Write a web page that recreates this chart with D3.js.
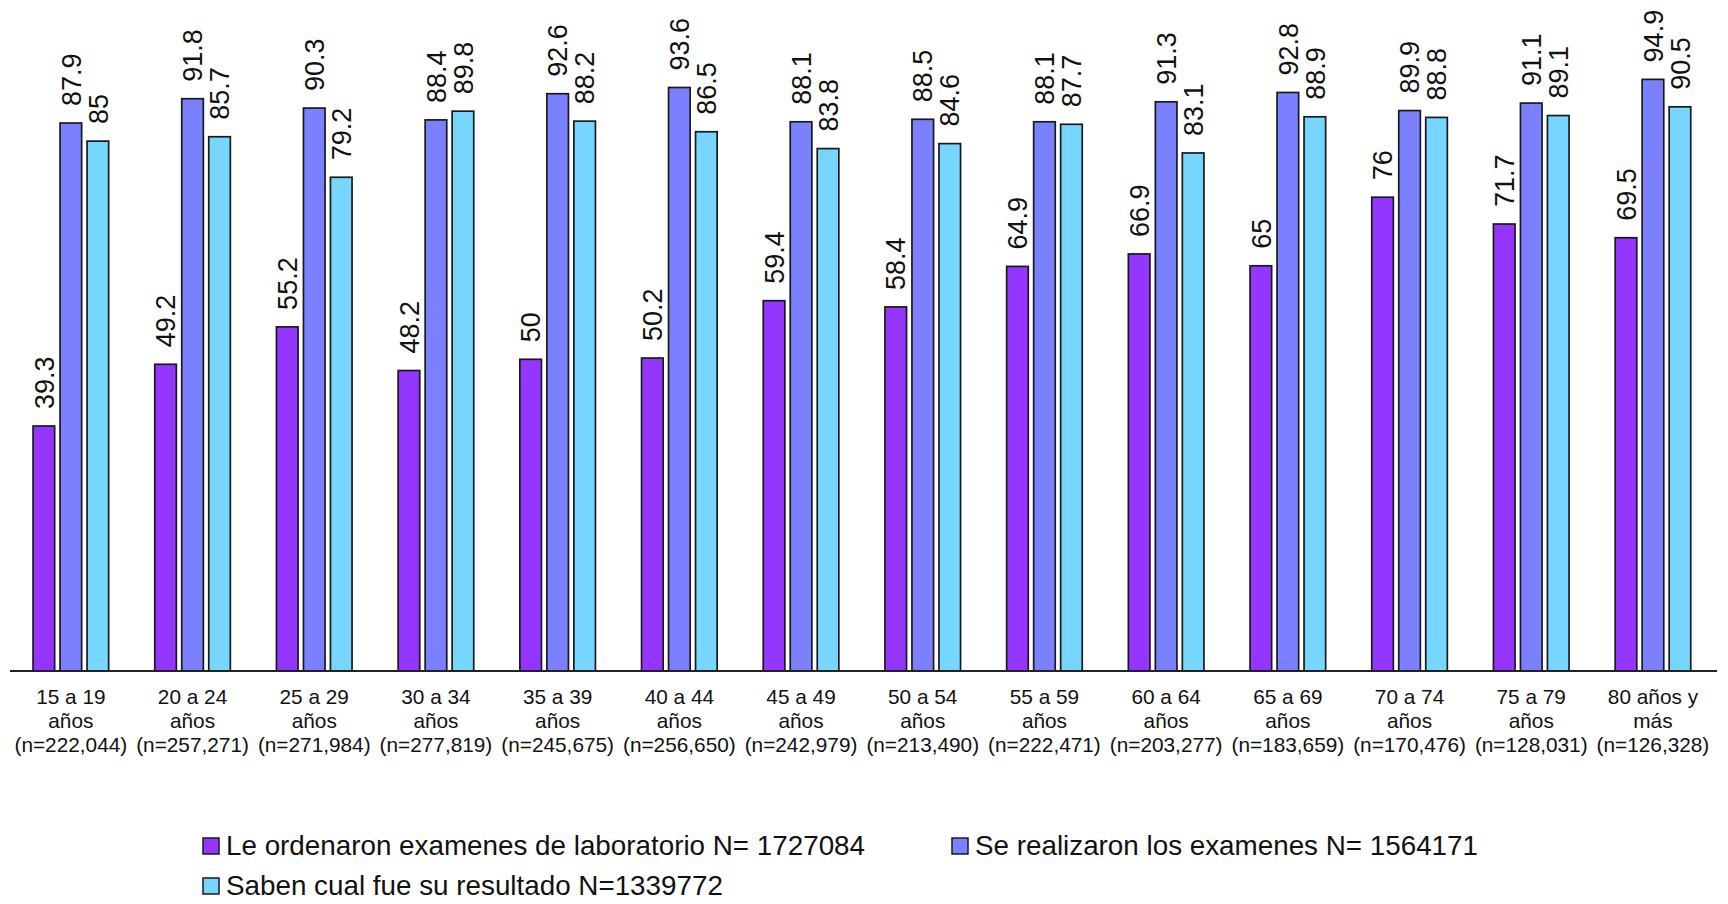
<!DOCTYPE html>
<html>
<head>
<meta charset="utf-8">
<script src="https://cdn.jsdelivr.net/npm/d3@7"></script>
<style>
  html, body { margin: 0; padding: 0; background: #ffffff; }
  svg { display: block; font-family: "Liberation Sans", Arial, Helvetica, sans-serif; }
</style>
</head>
<body>
<svg id="chart" width="1728" height="904"></svg>
<script>
// Age groups (three label lines each)
const ageRanges = ["15 a 19", "20 a 24", "25 a 29", "30 a 34", "35 a 39", "40 a 44", "45 a 49",
                   "50 a 54", "55 a 59", "60 a 64", "65 a 69", "70 a 74", "75 a 79", "80 años y"];
const ageSecondLine = ["años", "años", "años", "años", "años", "años", "años",
                       "años", "años", "años", "años", "años", "años", "más"];
const sampleSizes = ["222,044", "257,271", "271,984", "277,819", "245,675", "256,650", "242,979",
                     "213,490", "222,471", "203,277", "183,659", "170,476", "128,031", "126,328"];

// Percentages per series
const ordenaron  = [39.3, 49.2, 55.2, 48.2, 50, 50.2, 59.4, 58.4, 64.9, 66.9, 65, 76, 71.7, 69.5];
const realizaron = [87.9, 91.8, 90.3, 88.4, 92.6, 93.6, 88.1, 88.5, 88.1, 91.3, 92.8, 89.9, 91.1, 94.9];
const saben      = [85, 85.7, 79.2, 89.8, 88.2, 86.5, 83.8, 84.6, 87.7, 83.1, 88.9, 88.8, 89.1, 90.5];

const seriesNames = [
  "Le ordenaron examenes de laboratorio N= 1727084",
  "Se realizaron los examenes N= 1564171",
  "Saben cual fue su resultado N=1339772"
];
const seriesColors = ["#9436ff", "#7b80ff", "#77d6ff"];

const seriesValues = [ordenaron, realizaron, saben];
const seriesKeys = ["ordenaron", "realizaron", "saben"];

const svg = d3.select("#chart");

const x0 = d3.scaleBand()
  .domain(ageRanges)
  .range([10, 1713.8])
  .paddingInner(0)
  .paddingOuter(0);

const x1 = d3.scaleBand()
  .domain(seriesKeys)
  .range([0, x0.bandwidth()])
  .paddingInner(0.2)
  .paddingOuter(0.854);

const y = d3.scaleLinear()
  .domain([0, 100])
  .range([671, 47.6]);

// Bars and value labels
const groups = svg.append("g").selectAll("g")
  .data(ageRanges)
  .join("g")
  .attr("transform", d => `translate(${x0(d)},0)`);

groups.each(function(age, i) {
  const g = d3.select(this);
  seriesKeys.forEach((key, s) => {
    const v = seriesValues[s][i];
    g.append("rect")
      .attr("x", x1(key))
      .attr("y", y(v))
      .attr("width", x1.bandwidth())
      .attr("height", y(0) - y(v))
      .attr("fill", seriesColors[s])
      .attr("stroke", "#1a1a1a")
      .attr("stroke-width", 1.7);

    const cx = x1(key) + x1.bandwidth() / 2;
    const ly = y(v) - 17;
    g.append("text")
      .attr("transform", `translate(${cx},${ly}) rotate(-90)`)
      .attr("dy", "0.36em")
      .attr("text-anchor", "start")
      .attr("font-size", 27)
      .attr("fill", "#111")
      .text(v);
  });
});

// Baseline
svg.append("line")
  .attr("x1", 10).attr("x2", 1717)
  .attr("y1", y(0)).attr("y2", y(0))
  .attr("stroke", "#222")
  .attr("stroke-width", 2);

// Category labels
const xLabels = svg.append("g")
  .attr("font-size", 20.8)
  .attr("fill", "#111")
  .attr("text-anchor", "middle");

ageRanges.forEach((age, i) => {
  const cx = x0(age) + x0.bandwidth() / 2;
  const lines = [age, ageSecondLine[i], `(n=${sampleSizes[i]})`];
  lines.forEach((t, k) => {
    xLabels.append("text")
      .attr("x", cx)
      .attr("y", 704 + k * 24)
      .text(t);
  });
});

// Legend
const legendItems = [
  { name: seriesNames[0], color: seriesColors[0], x: 203, y: 855 },
  { name: seriesNames[1], color: seriesColors[1], x: 952, y: 855 },
  { name: seriesNames[2], color: seriesColors[2], x: 203, y: 895 }
];

const legend = svg.append("g");
legendItems.forEach(item => {
  legend.append("rect")
    .attr("x", item.x)
    .attr("y", item.y - 17)
    .attr("width", 16)
    .attr("height", 16)
    .attr("fill", item.color)
    .attr("stroke", "#1a1a1a")
    .attr("stroke-width", 1.5);
  legend.append("text")
    .attr("x", item.x + 23)
    .attr("y", item.y)
    .attr("font-size", 27.8)
    .attr("fill", "#111")
    .text(item.name);
});
</script>
</body>
</html>
